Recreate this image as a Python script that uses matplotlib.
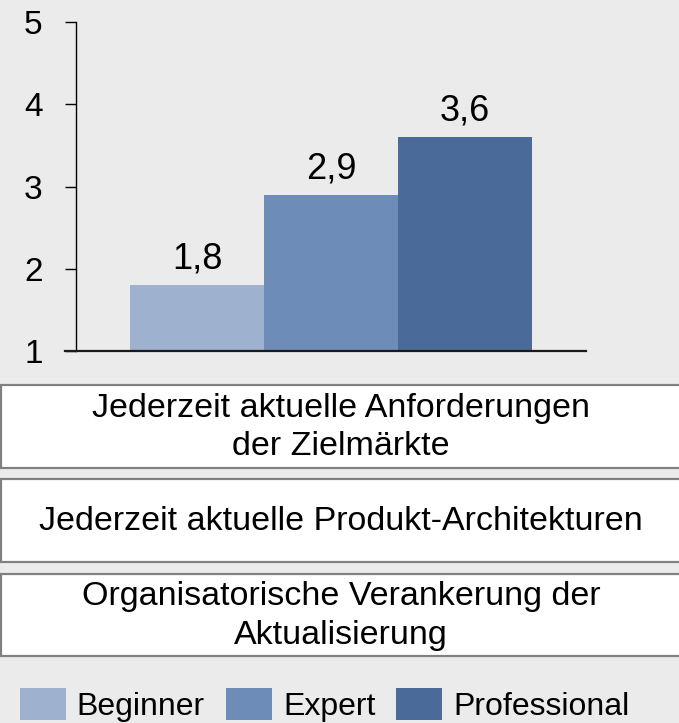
import matplotlib
matplotlib.use("Agg")
import matplotlib.pyplot as plt
from matplotlib.patches import Rectangle

plt.rcParams['font.family'] = ['Liberation Sans', 'DejaVu Sans']

# Data
series = ["Beginner", "Expert", "Professional"]
values = [1.8, 2.9, 3.6]
value_labels = ["1,8", "2,9", "3,6"]
colors = ["#9eb1cf", "#6d8cb8", "#4a6a99"]
yticks = [1, 2, 3, 4, 5]
categories = [
    "Jederzeit aktuelle Anforderungen\nder Zielmärkte",
    "Jederzeit aktuelle Produkt-Architekturen",
    "Organisatorische Verankerung der\nAktualisierung",
]

W, H = 679, 723
DPI = 100
bg = "#ebebeb"
fig = plt.figure(figsize=(W / DPI, H / DPI), dpi=DPI, facecolor=bg)

def fx(px):
    return px / W

def fy(py):
    return 1 - py / H

# axes: x from 65 to 586 px, y from 22 (val 5) to 351 (val 1)
ax = fig.add_axes([fx(65), fy(351), fx(586 - 65), (351 - 22) / H])
ax.set_facecolor(bg)

positions = list(range(len(series)))
bars = ax.bar(positions, [v - 1 for v in values], bottom=1, width=1.0,
              color=colors, linewidth=0)
for p, v, lab in zip(positions, values, value_labels):
    ax.annotate(lab, (p, v), xytext=(0, 6), textcoords="offset points",
                ha="center", va="bottom", fontsize=26, color="black")

unit = 134.0
ax.set_xlim(-0.5 - (130 - 65) / unit, 2.5 + (586 - 532) / unit)
ax.set_ylim(1, 5)
ax.set_xticks([])
for s in ["top", "right"]:
    ax.spines[s].set_visible(False)
ax.spines["left"].set_position(("axes", 11 / 521))
ax.spines["left"].set_linewidth(1.0)
ax.spines["bottom"].set_linewidth(1.6)
ax.spines["bottom"].set_color("#1a1a1a")
ax.set_yticks(yticks)
ax.set_yticklabels([str(t) for t in yticks])
ax.tick_params(axis="y", length=8, width=1.0, pad=16, direction="out",
               labelsize=24)

# category boxes
boxes = [(385, 468), (479, 562), (574, 656)]
for cat, (top, bot) in zip(categories, boxes):
    rect = Rectangle((fx(1), fy(bot)), fx(W + 10), (bot - top) / H,
                     transform=fig.transFigure, facecolor="white",
                     edgecolor="#808080", linewidth=1.6, clip_on=False)
    fig.add_artist(rect)
    fig.text(fx(341), fy((top + bot) / 2 + 1), cat, ha="center", va="center",
             fontsize=24.5, linespacing=1.32, color="black")

# legend
fig.legend(bars, series, loc="lower left",
           bbox_to_anchor=(fx(19), fy(723)), ncol=3, frameon=False,
           fontsize=23, handlelength=1.44, handleheight=1.15,
           handletextpad=0.34, columnspacing=0.66, borderpad=0,
           borderaxespad=0.03)

fig.savefig("out.png", dpi=DPI, facecolor=bg)
